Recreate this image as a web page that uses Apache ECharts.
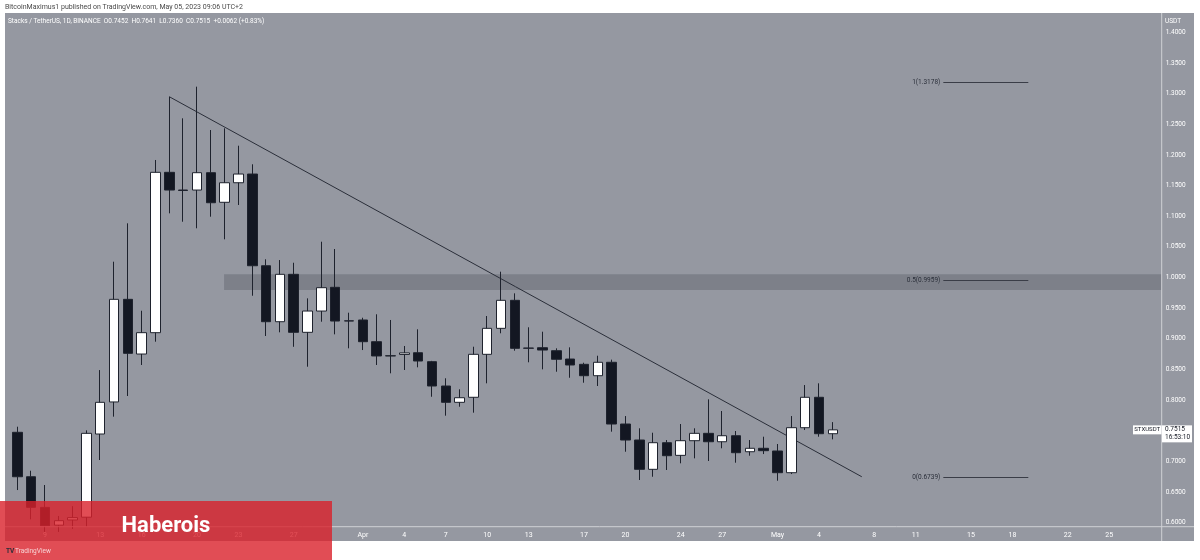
<!DOCTYPE html>
<html><head><meta charset="utf-8">
<script src="https://cdn.jsdelivr.net/npm/echarts@6.0.0/dist/echarts.min.js"></script>
<style>html,body{margin:0;padding:0;background:#fff}#c{width:1200px;height:560px}</style>
</head><body><div id="c"></div>
<script>
// Daily candles STX/USDT, index 0 = 2023-03-07 ... index 59 = 2023-05-05
const openP  = [0.7475,0.6750,0.6250,0.5960,0.6045,0.6090,0.7447,0.7970,0.9644,0.8752,
                0.9100,1.1716,1.1427,1.1427,1.1710,1.1227,1.1546,1.1688,1.0192,0.9279,
                1.0052,0.9106,0.9453,0.9840,0.9290,0.9307,0.8953,0.8720,0.8745,0.8773,
                0.8627,0.8230,0.7964,0.8046,0.8747,0.9171,0.9628,0.8845,0.8855,0.8806,
                0.8670,0.8584,0.8398,0.8617,0.7610,0.7349,0.6871,0.7305,0.7099,0.7338,
                0.7458,0.7321,0.7419,0.7158,0.7214,0.7170,0.6816,0.7550,0.8046,0.7452];
const closeP = [0.6750,0.6251,0.5950,0.6033,0.6083,0.7458,0.7964,0.9644,0.8763,0.9100,
                1.1716,1.1427,1.1420,1.1710,1.1220,1.1546,1.1688,1.0192,0.9279,1.0052,
                0.9106,0.9453,0.9834,0.9290,0.9295,0.8953,0.8720,0.8725,0.8770,0.8638,
                0.8230,0.7964,0.8039,0.8747,0.9171,0.9628,0.8845,0.8850,0.8817,0.8666,
                0.8573,0.8398,0.8617,0.7610,0.7349,0.6871,0.7305,0.7093,0.7338,0.7458,
                0.7321,0.7419,0.7142,0.7214,0.7175,0.6816,0.7550,0.8046,0.7452,0.7515];
const lowP   = [0.6533,0.6055,0.5850,0.5850,0.5900,0.5930,0.7023,0.7730,0.8067,0.8573,
                0.8953,1.1047,1.0910,1.0803,1.0992,1.0623,1.1183,0.9703,0.9046,0.9106,
                0.8870,0.8545,0.9279,0.9073,0.8845,0.8817,0.8573,0.8437,0.8491,0.8535,
                0.8055,0.7746,0.7892,0.7795,0.8274,0.9090,0.8806,0.8617,0.8502,0.8463,
                0.8365,0.8284,0.8230,0.7485,0.7158,0.6697,0.6750,0.6860,0.6969,0.7050,
                0.7007,0.7214,0.6979,0.7093,0.7120,0.6685,0.6794,0.7512,0.7403,0.7360];
const highP  = [0.7566,0.6848,0.6615,0.6110,0.6270,0.7507,0.8490,1.0258,1.0884,0.9458,
                1.1917,1.2949,1.2597,1.3113,1.2406,1.2434,1.2150,1.1847,1.0297,1.0285,
                1.0241,0.9660,1.0584,1.0465,0.9426,0.9344,0.9400,0.9307,0.8883,0.9155,
                0.8640,0.8356,0.8176,0.8871,0.9372,1.0095,0.9742,0.9188,0.9116,0.8845,
                0.8861,0.8610,0.8724,0.8660,0.7740,0.7540,0.7468,0.7349,0.7610,0.7540,
                0.8013,0.7822,0.7496,0.7349,0.7403,0.7284,0.7740,0.8246,0.8274,0.7641];

const priceTicks = [0.60,0.65,0.70,0.75,0.80,0.85,0.90,0.95,1.00,1.05,1.10,1.15,1.20,1.25,1.30,1.35,1.40];
const timeTickDays   = [2,6,9,13,16,20,25,28,31,34,37,41,44,48,51,55,58,62,65,69,72,76,79];
const timeTickLabels = ['9','13','16','20','23','27','Apr','4','7','10','13','17','20','24','27','May','4','8','11','15','18','22','25'];

const trendX = [11, 61.1];
const trendY = [1.2949, 0.675];
const fibLevels = [1.3178, 0.9959, 0.6739];
const fibNames  = ['1', '0.5', '0'];
const fibX = [67, 73.15];
const zoneStartDay = 14.96, zoneTop = 1.0052, zoneBottom = 0.9796;

const X_MIN = -0.89, X_MAX = 82.8, Y_MIN = 0.5935, Y_MAX = 1.4315;
const PANEL = '#9598a1';
const FONT = 'Roboto, "Noto Sans", sans-serif';

const candles = openP.map((o, i) => [i, o, closeP[i], lowP[i], highP[i]]);
const labelMap = {};
timeTickDays.forEach((d, i) => labelMap[d] = timeTickLabels[i]);

const chart = echarts.init(document.getElementById('c'));

const baseGraphics = [
  {type:'rect', id:'panel', z:-100, shape:{x:5, y:13, width:1189, height:528}, style:{fill:PANEL}},
  {type:'line', id:'hline', z:50, shape:{x1:5, y1:526.7, x2:1194, y2:526.7}, style:{stroke:'#cfd1d6', lineWidth:1}},
  {type:'line', id:'vline', z:50, shape:{x1:1161.7, y1:13, x2:1161.7, y2:541}, style:{stroke:'#cfd1d6', lineWidth:1}},
  {type:'text', id:'title', z:50, style:{text:'BitcoinMaximus1 published on TradingView.com, May 05, 2023 09:06 UTC+2', x:5, y:7, fill:'#4a4a4a', font:'7px ' + FONT, textVerticalAlign:'middle'}},
  {type:'text', id:'info', z:50, style:{text:'Stacks / TetherUS, 1D, BINANCE  O0.7452  H0.7641  L0.7360  C0.7515  +0.0062 (+0.83%)', x:8, y:21.5, fill:'#ffffff', font:'6.5px ' + FONT, textVerticalAlign:'middle'}},
  {type:'text', id:'usdt', z:50, style:{text:'USDT', x:1165, y:21, fill:'#ffffff', font:'6.5px ' + FONT, textVerticalAlign:'middle'}},
  {type:'rect', id:'banner', z:200, shape:{x:0, y:501, width:332, height:59}, style:{fill:'rgba(218,32,42,0.8)'}},
  {type:'text', id:'brand', z:201, style:{text:'Haberois', x:166, y:526, fill:'#ffffff', font:'bold 22px ' + FONT, textAlign:'center', textVerticalAlign:'middle'}},
  {type:'text', id:'tvlogo', z:201, style:{text:'TV', x:6, y:551, fill:'#2a2e39', font:'bold 6.5px ' + FONT, textVerticalAlign:'middle'}},
  {type:'text', id:'tvtext', z:201, style:{text:'TradingView', x:15, y:551, fill:'rgba(255,255,255,0.75)', font:'6.5px ' + FONT, textVerticalAlign:'middle'}}
];

chart.setOption({
  animation: false,
  backgroundColor: '#ffffff',
  grid: {left: 5, right: 38.3, top: 13, bottom: 33.3},
  xAxis: {
    type: 'value', min: X_MIN, max: X_MAX,
    axisLine: {show: false}, axisTick: {show: false}, splitLine: {show: false},
    axisLabel: {customValues: timeTickDays, formatter: v => labelMap[v] || '', color: '#ffffff', fontSize: 7, fontFamily: FONT, margin: 5, hideOverlap: false}
  },
  yAxis: {
    type: 'value', position: 'right', min: Y_MIN, max: Y_MAX, scale: true,
    axisLine: {show: false}, axisTick: {show: false}, splitLine: {show: false},
    axisLabel: {customValues: priceTicks, formatter: v => v.toFixed(4), color: '#ffffff', fontSize: 6.5, fontFamily: FONT, margin: 4, align: 'left'}
  },
  series: [
    {
      type: 'line', name: 'trend', silent: true, z: 3,
      data: [[trendX[0], trendY[0]], [trendX[1], trendY[1]]],
      showSymbol: false, symbol: 'none',
      lineStyle: {color: '#2a2e39', width: 1},
      markArea: {
        silent: true,
        itemStyle: {color: 'rgba(70,72,82,0.3)'},
        data: [[{xAxis: zoneStartDay, yAxis: zoneTop}, {xAxis: X_MAX, yAxis: zoneBottom}]]
      },
      markLine: {
        silent: true, symbol: ['none', 'none'],
        lineStyle: {color: '#3a3d47', width: 1, type: 'solid'},
        label: {position: 'start', color: '#2a2e39', fontSize: 6.5, fontFamily: FONT, distance: 3},
        data: fibLevels.map((lv, i) => [
          {coord: [fibX[0], lv], label: {formatter: fibNames[i] + '(' + lv.toFixed(4) + ')'}},
          {coord: [fibX[1], lv]}
        ])
      }
    },
    {
      type: 'candlestick', name: 'STXUSDT', z: 5, barWidth: 10,
      data: candles,
      itemStyle: {color: '#ffffff', color0: '#131722', borderColor: '#1e222d', borderColor0: '#1e222d', borderWidth: 1}
    }
  ],
  graphic: {elements: baseGraphics}
});

const lastClose = closeP[closeP.length - 1];
const py = chart.convertToPixel({yAxisIndex: 0}, lastClose);
chart.setOption({graphic: {elements: baseGraphics.concat([
  {type:'rect', id:'symbox', z:60, shape:{x:1133, y:py-4.5, width:28.5, height:9}, style:{fill:'#ffffff'}},
  {type:'text', id:'symtxt', z:61, style:{text:'STXUSDT', x:1147.2, y:py, fill:'#131722', font:'6px ' + FONT, textAlign:'center', textVerticalAlign:'middle'}},
  {type:'rect', id:'pricebox', z:60, shape:{x:1162, y:py-4.5, width:30, height:17}, style:{fill:'#ffffff'}},
  {type:'text', id:'pricetxt', z:61, style:{text:lastClose.toFixed(4), x:1165, y:py, fill:'#131722', font:'6.5px ' + FONT, textVerticalAlign:'middle'}},
  {type:'text', id:'timetxt', z:61, style:{text:'16:53:10', x:1165, y:py+8, fill:'#131722', font:'6.5px ' + FONT, textVerticalAlign:'middle'}}
])}});
</script>
</body></html>
